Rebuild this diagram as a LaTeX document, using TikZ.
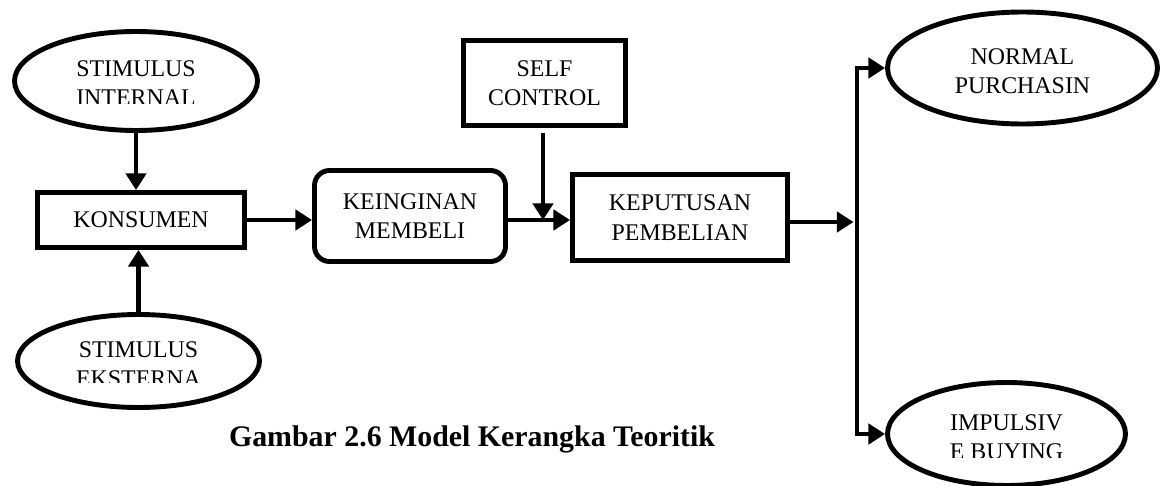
\documentclass[tikz,border=0pt]{standalone}
\usepackage{fontspec}
\setmainfont{Liberation Serif}
\usetikzlibrary{shapes.geometric,arrows.meta,calc}

\begin{document}
\begin{tikzpicture}[x=0.02cm, y=-0.02cm,
    every node/.style={font=\fontsize{13.6}{16.8}\selectfont},
    boxnode/.style={draw, rectangle, line width=2.8pt, align=center, inner sep=0pt},
    ovalnode/.style={draw, ellipse, line width=2.8pt, inner sep=0pt},
    txt/.style={inner sep=0pt, anchor=base},
    arr/.style={line width=2.8pt, -{Triangle[length=9.5pt,width=11.5pt]}}]
    \useasboundingbox (0,0) rectangle (1162,486);

    % Stimulus (left)
    \node[ovalnode, minimum width=4.86cm, minimum height=1.98cm] (si) at (136,81) {};
    \node[txt] (siA) at (136,77) {STIMULUS};
    \begin{scope}
        \clip (60,80) rectangle (210,104);
        \node[txt] (siB) at (136,106) {INTERNAL};
    \end{scope}

    \node[ovalnode, minimum width=4.84cm, minimum height=1.86cm] (se) at (138.5,361) {};
    \node[txt] (seA) at (138.5,357) {STIMULUS};
    \begin{scope}
        \clip (60,362) rectangle (215,382);
        \node[txt] (seB) at (138.5,386) {EKSTERNA};
    \end{scope}

    % Main chain
    \node[boxnode, minimum width=4.14cm, minimum height=1.1cm] (kons) at (141,220) {KONSUMEN};
    \node[boxnode, rounded corners=0.3cm, minimum width=3.82cm, minimum height=1.82cm] (kein) at (410,216) {KEINGINAN\\MEMBELI};
    \node[boxnode, minimum width=3.24cm, minimum height=1.7cm] (self) at (544.5,83) {SELF\\CONTROL};
    \node[boxnode, minimum width=4.3cm, minimum height=1.72cm] (kep) at (680,217.5) {KEPUTUSAN\\PEMBELIAN};

    % Outcomes (right)
    \node[ovalnode, minimum width=5.4cm, minimum height=2.24cm] (np) at (1022.5,68) {};
    \node[txt] (npA) at (1022.5,65) {NORMAL};
    \node[txt] (npB) at (1022.5,94) {PURCHASIN};

    \node[ovalnode, minimum width=4.76cm, minimum height=2.06cm] (ib) at (1006.5,434) {};
    \node[txt] (ibA) at (1006.5,430) {IMPULSIV};
    \begin{scope}
        \clip (930,436) rectangle (1080,457);
        \node[txt] (ibB) at (1006.5,459) {E BUYING};
    \end{scope}

    \coordinate (jc) at (543,220);
    \coordinate (split) at (857,222);

    % Connectors
    \draw[arr] (si.south) -- (si.south |- kons.north);
    \draw[arr] (se.north) -- (se.north |- kons.south);
    \draw[arr] (kons.east) -- (kons.east -| kein.west);
    \draw[arr] (kein.east |- jc) -- (kep.west |- jc);
    \draw[arr] ([yshift=-0.1cm]self.south -| jc) -- (jc);
    \draw[arr] (kep.east |- split) -- ([xshift=-0.07cm]split);
    \draw[arr] (split) |- (np.west);
    \draw[arr] (split) |- (ib.west);

    % Caption
    \node[font=\fontsize{17}{20}\selectfont\bfseries] (cap) at (472,439) {Gambar 2.6 Model Kerangka Teoritik};
\end{tikzpicture}
\end{document}
